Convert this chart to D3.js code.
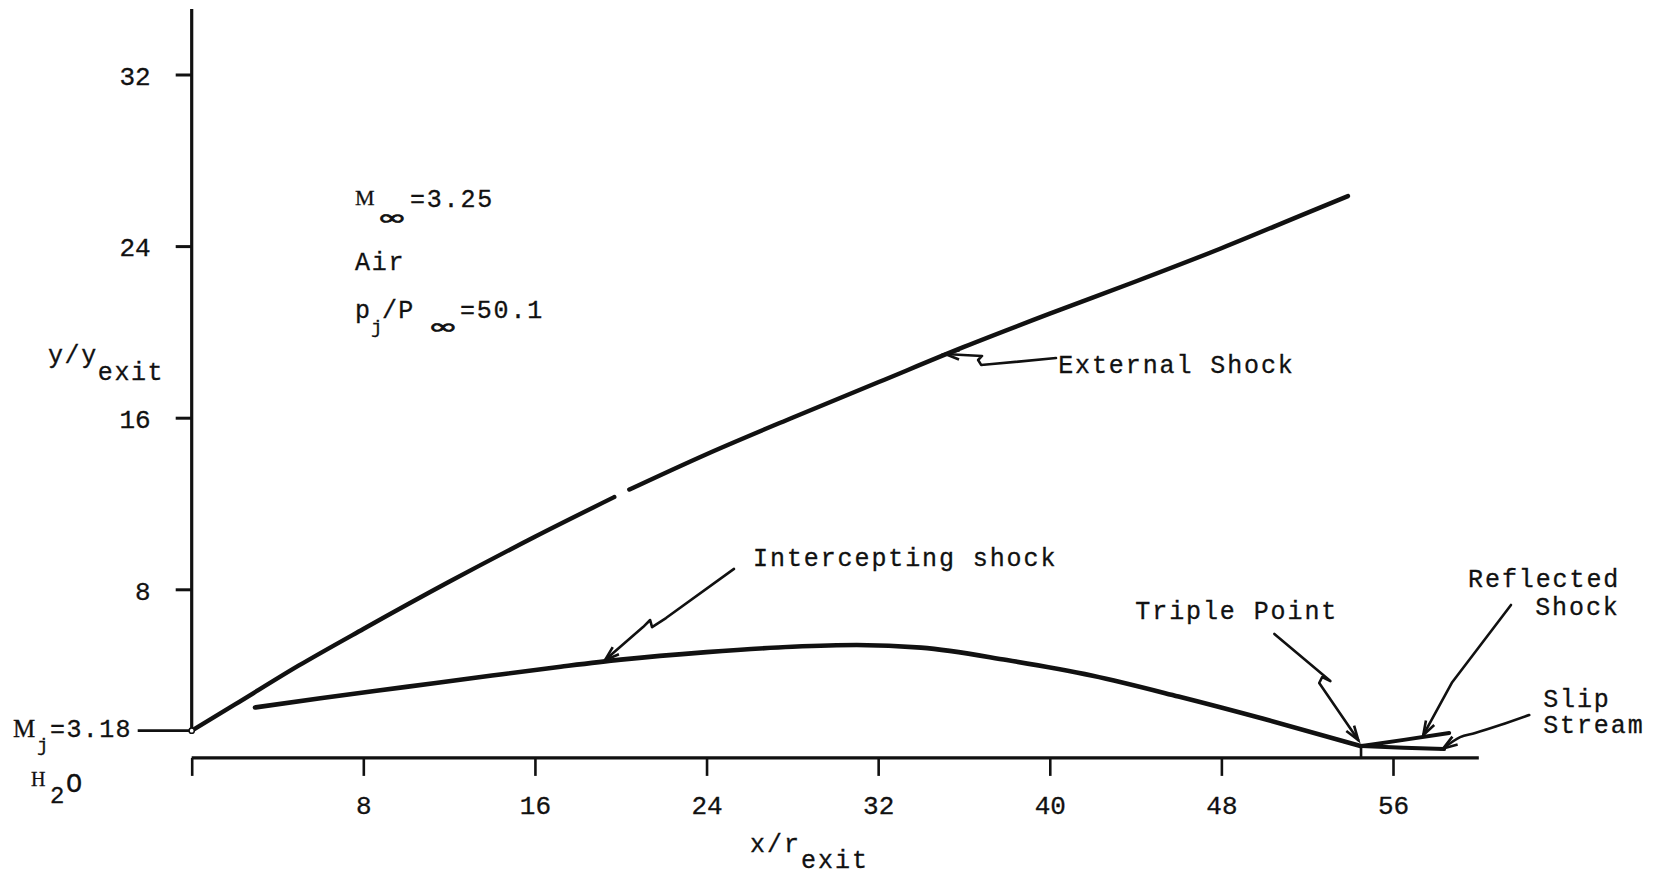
<!DOCTYPE html>
<html><head><meta charset="utf-8">
<script src="https://cdn.jsdelivr.net/npm/d3@7/dist/d3.min.js"></script>
<style>
html,body{margin:0;padding:0;background:#fff;}
svg{display:block;font-family:"Liberation Mono","Courier New",monospace;}
text{fill:#111;stroke:#111;stroke-width:0.3px;}
</style></head><body>
<svg id="chart" width="1661" height="877"></svg>
<script>
// ---- data (x/r_exit, y/y_exit) ----
const xTicks = [0, 8, 16, 24, 32, 40, 48, 56];
const yTicks = [8, 16, 24, 32];
const externalShockLower = [[0,1.41],[2,2.62],[5,4.45],[8,6.15],[12,8.35],[16,10.45],[19.7,12.3]];
const externalShockUpper = [[20.4,12.65],[24,14.3],[28,16.0],[32,17.65],[36,19.3],[40,20.85],[44,22.35],[48,23.9],[52,25.55],[53.9,26.33]];
const interceptingShock = [[2.95,2.49],[6,2.92],[10,3.45],[14,3.98],[17.2,4.39],[20,4.72],[24,5.07],[28,5.32],[31,5.40],[34,5.28],[38,4.70],[42,3.97],[46,3.0],[50,1.95],[54.51,0.69]];
const reflectedShock = [[54.51,0.69],[56.5,0.98],[58.62,1.30]];
const slipStream = [[54.51,0.69],[56.5,0.61],[58.38,0.55]];
const triplePoint = [54.51, 0.69];
const jetExit = [0, 1.41];
const yAxisTop = 35.05;
const xAxisEnd = 60;

// annotation leader arrows (data units)
const arrowExternal = [[40.29,18.78],[37.31,18.50],[36.80,18.46],[36.66,18.69],[36.84,18.88],[35.96,18.92],[35.12,18.97]];
const arrowIntercepting = [[25.28,8.95],[22.11,6.66],[21.46,6.24],[21.37,6.57],[21.04,6.24],[19.27,4.70]];
const arrowTriple = [[50.47,5.92],[53.08,3.72],[52.70,3.91],[52.56,3.63],[54.38,0.97]];
const arrowReflected = [[61.50,7.27],[58.76,3.67],[57.41,1.20]];
const arrowSlip = [[62.35,2.14],[61.0,1.67],[59.83,1.30],[59.13,1.11],[58.34,0.58]];

const labelTexts = ["External Shock","Intercepting shock","Triple Point","Reflected","Shock","Slip","Stream"];
const labelPos = [[40.39,18.08],[26.17,9.09],[43.99,6.62],[59.50,8.11],[62.63,6.80],[63.00,2.51],[63.00,1.30]];

// ---- scales ----
const svg = d3.select("#chart");
const x = d3.scaleLinear().domain([0, 56]).range([191.7, 1393]);
const y = d3.scaleLinear().domain([8, 32]).range([589.3, 74.5]);
const ink = "#111";

// ---- axes ----
const xAxisY = y(0) - 3;
const gx = svg.append("g").attr("transform", `translate(0,${xAxisY})`)
  .call(d3.axisBottom(x).tickValues(xTicks).tickSize(18).tickSizeOuter(0).tickPadding(20)
        .tickFormat(d => d === 0 ? "" : d))
  .attr("font-family", null).attr("font-size", null);
gx.select(".domain").remove();
gx.selectAll(".tick line").attr("stroke", ink).attr("stroke-width", 2.6);
gx.selectAll(".tick text").attr("font-size", 26).attr("fill", ink);
gx.append("line").attr("x1", x(0)).attr("x2", x(xAxisEnd)).attr("y1", 0).attr("y2", 0)
  .attr("stroke", ink).attr("stroke-width", 3.2);

const gy = svg.append("g").attr("transform", `translate(${x(0)},0)`)
  .call(d3.axisLeft(y).tickValues(yTicks).tickSize(16).tickPadding(25))
  .attr("font-family", null).attr("font-size", null);
gy.select(".domain").remove();
gy.selectAll(".tick line").attr("stroke", ink).attr("stroke-width", 3);
gy.selectAll(".tick text").attr("font-size", 26).attr("fill", ink).attr("dy", "0.38em");
gy.append("line").attr("x1", 0).attr("x2", 0).attr("y1", y(yAxisTop)).attr("y2", y(jetExit[1]))
  .attr("stroke", ink).attr("stroke-width", 3.2);

// ---- shock curves ----
const line = d3.line().x(d => x(d[0])).y(d => y(d[1])).curve(d3.curveMonotoneX);
const curves = [
  [externalShockLower, 4.4],
  [externalShockUpper, 4.4],
  [interceptingShock, 4.6],
  [reflectedShock, 4],
  [slipStream, 4]
];
curves.forEach(([data, w]) => {
  svg.append("path").attr("d", line(data)).attr("fill", "none")
    .attr("stroke", ink).attr("stroke-width", w).attr("stroke-linecap", "round");
});
// triple point mark down to the axis
svg.append("line").attr("x1", x(triplePoint[0])).attr("x2", x(triplePoint[0]))
  .attr("y1", y(triplePoint[1])).attr("y2", xAxisY)
  .attr("stroke", ink).attr("stroke-width", 2.6);
// M_j leader line
svg.append("line").attr("x1", x(0) - 54).attr("x2", x(0))
  .attr("y1", y(jetExit[1])).attr("y2", y(jetExit[1]))
  .attr("stroke", ink).attr("stroke-width", 2.6);
svg.append("circle").attr("cx", x(jetExit[0])).attr("cy", y(jetExit[1])).attr("r", 2.6)
  .attr("fill", "#fff").attr("stroke", ink).attr("stroke-width", 1.5);

// ---- annotation arrows ----
function arrow(points, curved) {
  const p = points.map(d => [x(d[0]), y(d[1])]);
  const ln = d3.line().curve(curved ? d3.curveCatmullRom.alpha(0.5) : d3.curveLinear);
  svg.append("path").attr("d", ln(p)).attr("fill", "none").attr("stroke", ink)
    .attr("stroke-width", 2.6).attr("stroke-linejoin", "round").attr("stroke-linecap", "round");
  const [tx, ty] = p[p.length - 1], [sx, sy] = p[p.length - 2];
  const a = Math.atan2(ty - sy, tx - sx), L = 15, s = 0.32;
  const h1 = [tx - L * Math.cos(a - s), ty - L * Math.sin(a - s)];
  const h2 = [tx - L * Math.cos(a + s), ty - L * Math.sin(a + s)];
  svg.append("path").attr("d", d3.line()([h1, [tx, ty], h2])).attr("fill", "none")
    .attr("stroke", ink).attr("stroke-width", 2.6).attr("stroke-linejoin", "miter");
}
arrow(arrowExternal, false);
arrow(arrowIntercepting, false);
arrow(arrowTriple, false);
arrow(arrowReflected, false);
arrow(arrowSlip, true);

// ---- annotation labels ----
labelTexts.forEach((t, i) => {
  svg.append("text").attr("x", x(labelPos[i][0])).attr("y", y(labelPos[i][1]))
    .attr("font-size", 25).attr("letter-spacing", "1.9px").text(t);
});

// ---- axis titles ----
const yl = svg.append("text").attr("x", 48).attr("y", 363).attr("font-size", 25).attr("letter-spacing", "1.6px");
yl.append("tspan").text("y/y");
yl.append("tspan").attr("dy", 17).text("exit");

const xl = svg.append("text").attr("x", 750).attr("y", 852).attr("font-size", 25).attr("letter-spacing", "2px");
xl.append("tspan").text("x/r");
xl.append("tspan").attr("dy", 16).text("exit");

// ---- parameter block ----
const serif = "Liberation Serif";
function infinity(cx, baseline) {
  // wide, flat infinity sign as in the typed original
  svg.append("text").attr("transform", `translate(${cx},${baseline}) scale(1.65,1)`)
    .attr("text-anchor", "middle").attr("font-family", "DejaVu Sans").attr("font-size", 22)
    .style("stroke-width", "0.7px").text("\u221E");
}
svg.append("text").attr("x", 355).attr("y", 205).attr("font-family", serif).attr("font-size", 22).text("M");
infinity(392, 225);
svg.append("text").attr("x", 410).attr("y", 207).attr("font-size", 25).attr("letter-spacing", "1.8px").text("=3.25");

svg.append("text").attr("x", 355).attr("y", 270).attr("font-size", 25).attr("letter-spacing", "1.8px").text("Air");

svg.append("text").attr("x", 355).attr("y", 318).attr("font-size", 25).text("p");
svg.append("text").attr("x", 371).attr("y", 333).attr("font-size", 19).text("j");
svg.append("text").attr("x", 382).attr("y", 318).attr("font-size", 25).attr("letter-spacing", "1.2px").text("/P");
infinity(443, 334);
svg.append("text").attr("x", 460).attr("y", 318).attr("font-size", 25).attr("letter-spacing", "1.8px").text("=50.1");

svg.append("text").attr("x", 13).attr("y", 737).attr("font-family", serif).attr("font-size", 25).text("M");
svg.append("text").attr("x", 37).attr("y", 751).attr("font-size", 19).text("j");
svg.append("text").attr("x", 50).attr("y", 737).attr("font-size", 25).attr("letter-spacing", "1.4px").text("=3.18");

svg.append("text").attr("x", 31).attr("y", 786).attr("font-family", serif).attr("font-size", 20).text("H");
svg.append("text").attr("x", 50).attr("y", 803).attr("font-size", 24).text("2");
svg.append("text").attr("x", 66).attr("y", 792).attr("font-size", 27).text("O");
</script>
</body></html>
